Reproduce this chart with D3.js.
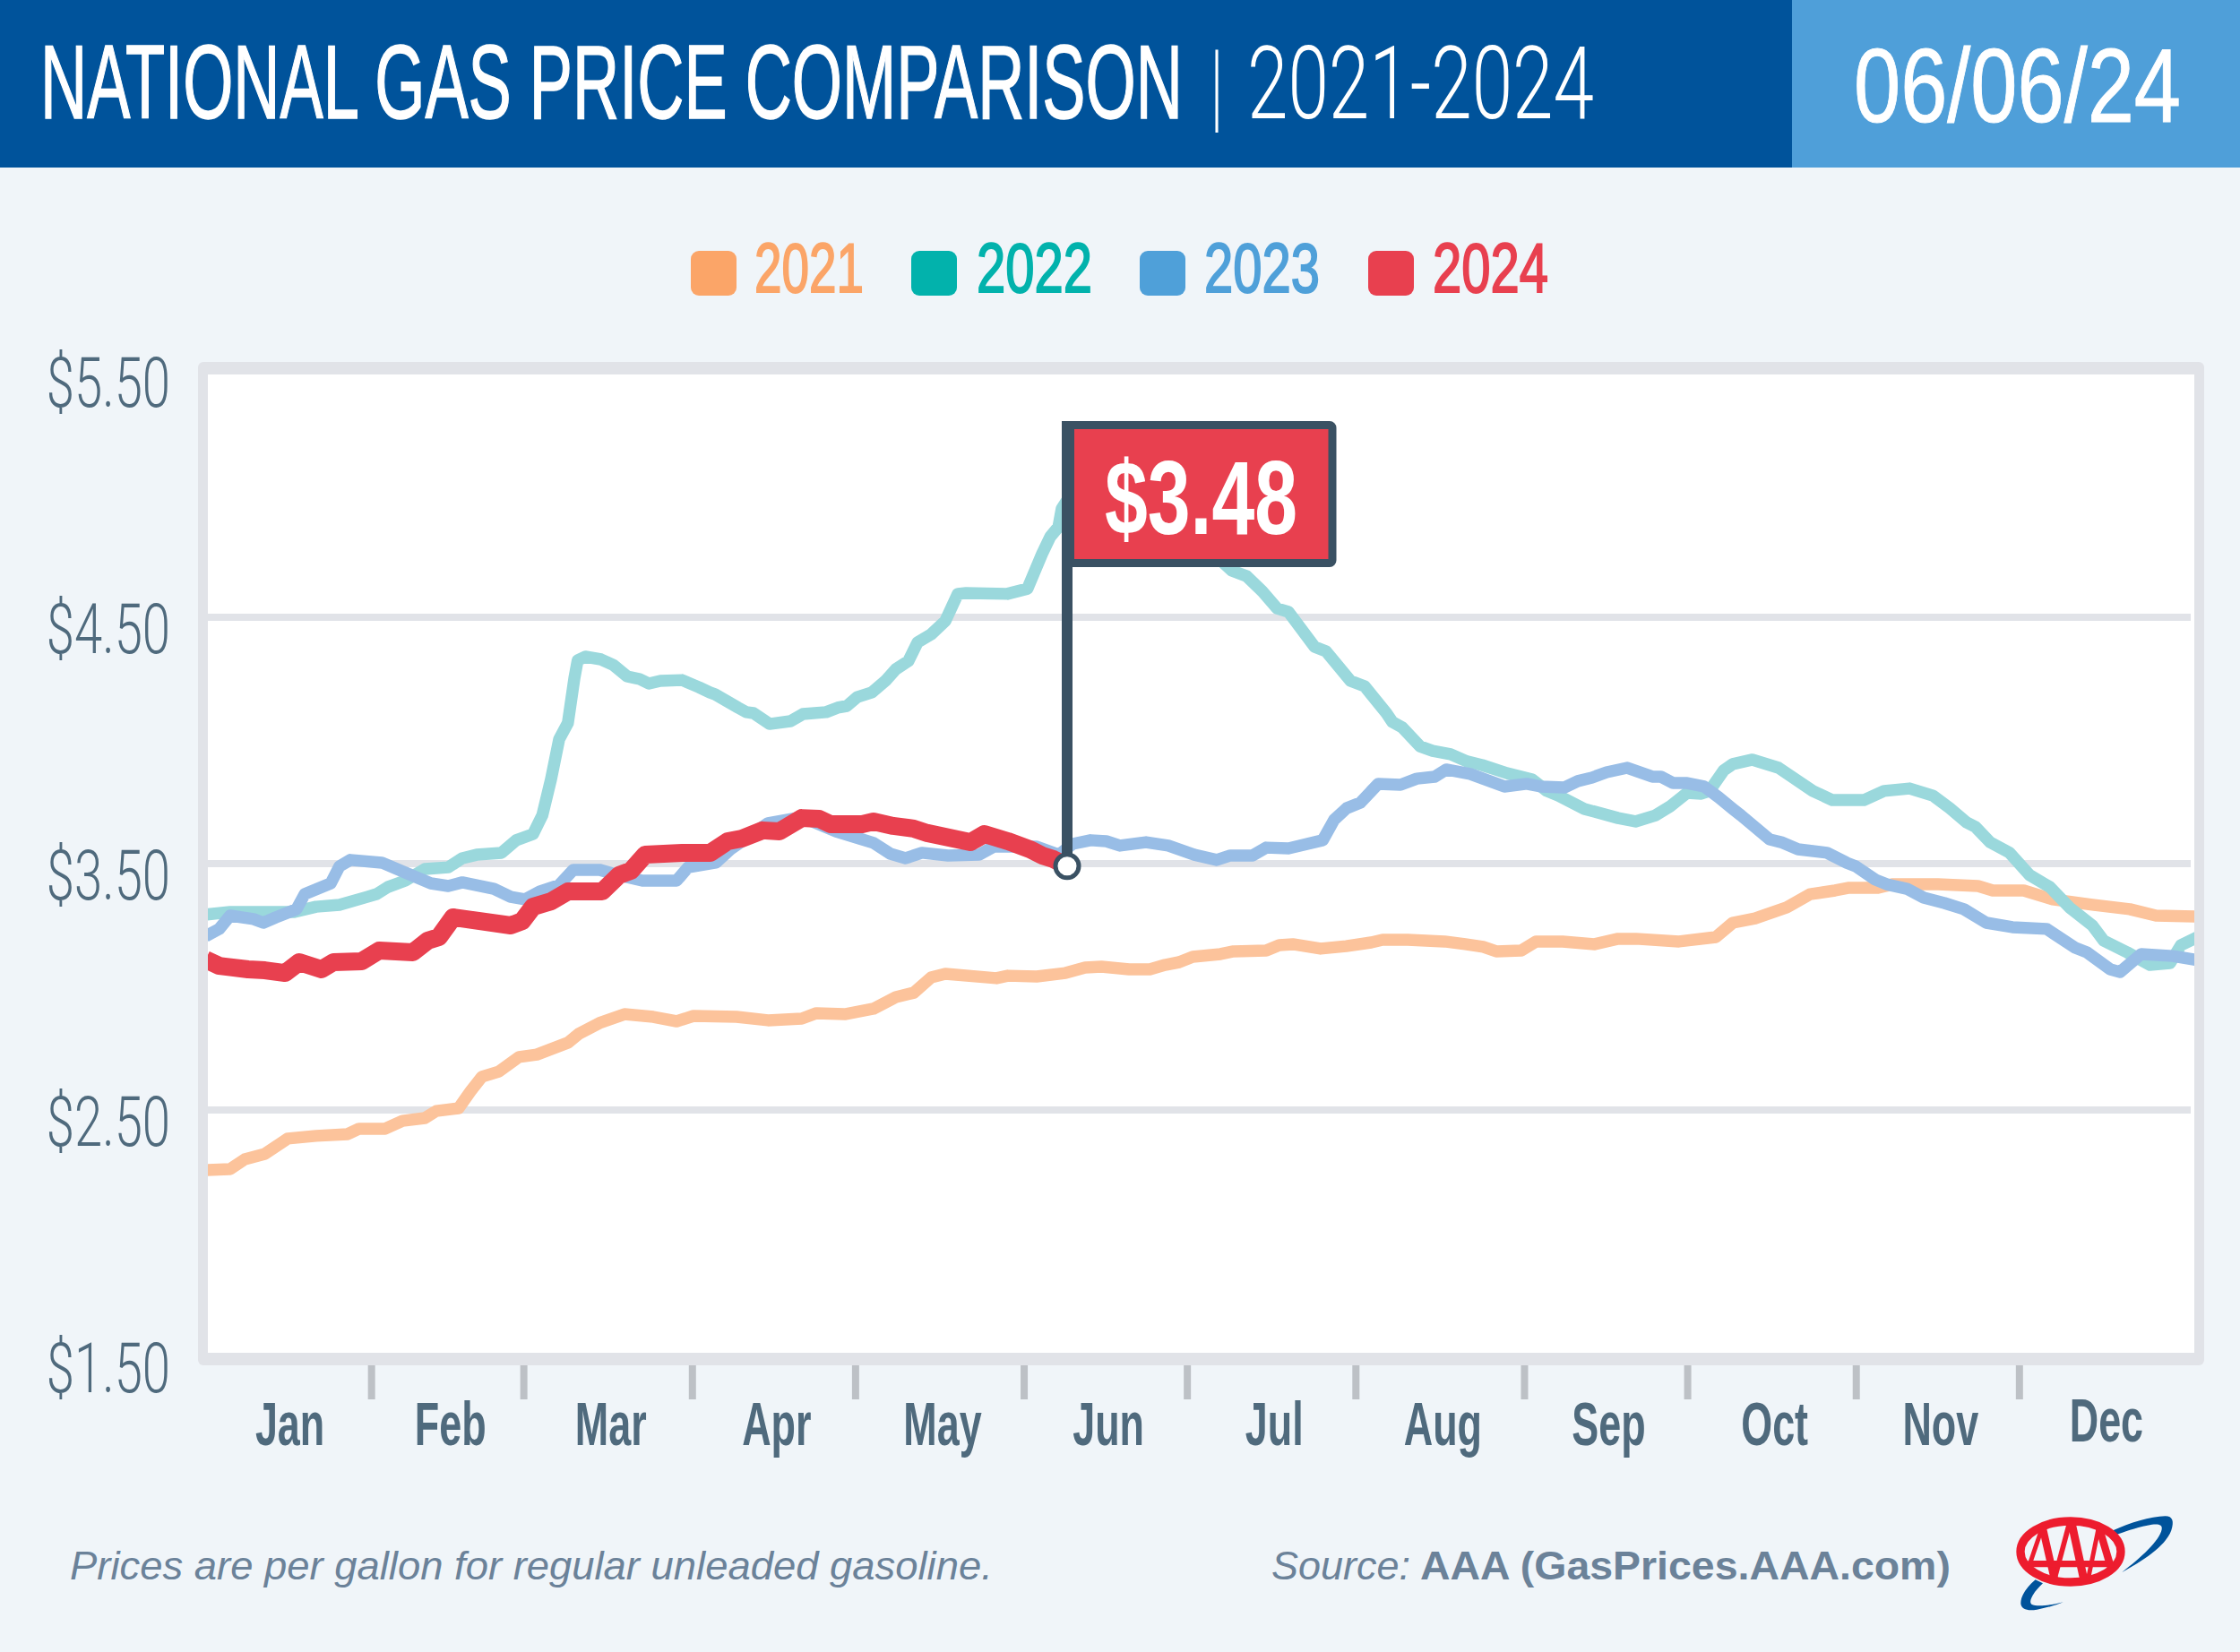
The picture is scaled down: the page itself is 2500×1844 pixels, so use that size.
<!DOCTYPE html>
<html>
<head>
<meta charset="utf-8">
<title>National Gas Price Comparison</title>
<script src="https://cdn.jsdelivr.net/npm/d3@7"></script>
<style>
  html, body { margin: 0; padding: 0; background: #f0f5f9; }
  svg { display: block; }
</style>
</head>
<body>
<div id="chart"></div>
<script>
// values: [day of year, price]
const years = ['2021', '2022', '2023', '2024'];
const months = ['Jan', 'Feb', 'Mar', 'Apr', 'May', 'Jun', 'Jul', 'Aug', 'Sep', 'Oct', 'Nov', 'Dec'];
const monthEnds = [31, 59, 90, 120, 151, 181, 212, 243, 273, 304, 334];
const monthMids = [15.5, 45, 74.5, 105, 135.5, 166, 196.5, 227.5, 258, 288.5, 319, 349.5];
const priceTicks = [1.5, 2.5, 3.5, 4.5, 5.5];
const gridPrices = [2.5, 3.5, 4.5];

const prices2021 = [[0.5,2.256],[5,2.26],[7.7,2.3],[11.4,2.322],[15.6,2.384],[20.8,2.395],[26.6,2.402],[28.7,2.424],[33.5,2.424],[36.7,2.456],[40.8,2.467],[42.9,2.496],[47,2.507],[49.2,2.576],[51.3,2.635],[54.4,2.656],[58.1,2.715],[61.4,2.725],[67.1,2.773],[69.1,2.809],[72.9,2.853],[77.5,2.889],[82.8,2.878],[87.1,2.86],[90.2,2.882],[98.1,2.878],[103.9,2.864],[110.1,2.871],[112.8,2.893],[118,2.889],[123.3,2.911],[127.4,2.958],[130.7,2.976],[133.9,3.038],[136.5,3.053],[145.9,3.035],[148,3.045],[153.3,3.042],[158.6,3.056],[162.2,3.078],[165.2,3.082],[170.3,3.071],[174.1,3.071],[176.9,3.089],[179.5,3.1],[182,3.122],[187.1,3.133],[189.5,3.144],[195.5,3.147],[197.9,3.169],[200.4,3.173],[205.5,3.155],[210.2,3.165],[214.8,3.18],[216.9,3.191],[221.5,3.191],[228.3,3.184],[232.1,3.173],[235.4,3.162],[237.8,3.144],[242.4,3.147],[245.1,3.184],[250,3.184],[255.9,3.173],[260.2,3.195],[263.5,3.195],[271.4,3.184],[278.2,3.202],[281.3,3.26],[285.4,3.278],[291.2,3.322],[295.5,3.376],[300.1,3.391],[302.7,3.402],[308,3.402],[310.6,3.416],[319,3.416],[326.4,3.409],[329.1,3.391],[334.8,3.391],[340.1,3.355],[347.4,3.333],[354.3,3.315],[359.1,3.289],[367,3.285]];

const prices2022 = [[0.5,3.293],[5,3.304],[11.4,3.304],[16.8,3.304],[20.8,3.325],[25.1,3.333],[30.2,3.365],[31.9,3.376],[34,3.405],[37.2,3.431],[40.8,3.478],[45.1,3.485],[47.7,3.522],[50.3,3.536],[54.9,3.544],[57.6,3.595],[60.7,3.62],[62.4,3.696],[64,3.842],[65.5,4.005],[67.1,4.071],[68.3,4.253],[68.9,4.325],[70.3,4.34],[73.2,4.329],[75.4,4.307],[78,4.26],[80.3,4.249],[82,4.231],[84.1,4.242],[88.1,4.245],[91.2,4.216],[93.2,4.195],[94.2,4.187],[98.4,4.133],[99.9,4.115],[101.2,4.111],[104.2,4.067],[108,4.078],[110.3,4.107],[114.6,4.115],[116.7,4.133],[118.4,4.14],[120.3,4.176],[123,4.195],[125.5,4.242],[127.4,4.289],[129.7,4.322],[131.4,4.398],[133.9,4.431],[136.5,4.485],[138.8,4.595],[140.3,4.598],[147.9,4.595],[151.6,4.616],[154.3,4.758],[155.8,4.827],[157.3,4.867],[157.9,4.94],[159.5,4.995],[162.8,5.013],[167,5.024],[171.1,4.998],[176.9,4.915],[183.5,4.805],[189.2,4.689],[191.9,4.667],[194.8,4.605],[197.5,4.536],[199.6,4.522],[204.4,4.38],[206.5,4.362],[211,4.242],[213.6,4.22],[217.6,4.111],[218.7,4.075],[220.5,4.053],[223.8,3.976],[226.1,3.958],[229.4,3.944],[232.4,3.915],[235.2,3.9],[239.8,3.867],[244.4,3.842],[247.1,3.795],[249.2,3.776],[254,3.722],[260.2,3.685],[263.4,3.671],[267.1,3.696],[269.8,3.733],[272.9,3.787],[275.5,3.784],[277,3.795],[279.6,3.878],[281.3,3.904],[284.9,3.922],[289.7,3.889],[296,3.795],[299.6,3.758],[305.4,3.758],[309.1,3.795],[313.8,3.805],[318.1,3.776],[321.2,3.725],[324.3,3.667],[325.9,3.649],[328.6,3.587],[332.2,3.544],[335.9,3.453],[339.6,3.405],[343.2,3.322],[347.4,3.249],[349.5,3.187],[353.8,3.14],[358,3.089],[361.7,3.096],[363.7,3.169],[367,3.205]];

const prices2023 = [[0.5,3.205],[3,3.235],[5,3.289],[9.3,3.275],[11.1,3.26],[13.4,3.282],[17.2,3.315],[18.7,3.376],[23.5,3.42],[25.1,3.489],[27.1,3.515],[32.9,3.504],[37.6,3.46],[41.9,3.42],[45.1,3.409],[47.7,3.424],[53.5,3.398],[56.6,3.365],[59.2,3.355],[61.9,3.387],[65.5,3.413],[68.1,3.475],[72.9,3.475],[76.5,3.453],[80.8,3.431],[87.1,3.431],[89.2,3.485],[94.3,3.504],[97,3.558],[103.9,3.664],[110.1,3.689],[116.4,3.631],[120.7,3.602],[123.3,3.584],[126.4,3.54],[129.2,3.522],[132.2,3.544],[137,3.533],[142.7,3.536],[145.4,3.569],[153.3,3.569],[157.4,3.536],[159.9,3.58],[163.2,3.595],[166.1,3.591],[168.6,3.573],[173.4,3.587],[177.5,3.573],[182.3,3.536],[186.4,3.515],[188.9,3.533],[193,3.533],[195.5,3.565],[199.6,3.562],[205.9,3.595],[208,3.678],[210.3,3.725],[212.8,3.747],[216.1,3.824],[220.2,3.82],[223.2,3.845],[226.5,3.853],[228.6,3.882],[233,3.864],[239.3,3.813],[243.4,3.824],[246,3.813],[250.3,3.809],[252.8,3.835],[255.4,3.849],[258.1,3.871],[261.9,3.889],[266.5,3.853],[268.1,3.853],[270.3,3.827],[272.9,3.827],[276,3.813],[278.7,3.769],[281.3,3.722],[282.8,3.696],[288.1,3.598],[290.2,3.587],[293.3,3.558],[298.6,3.544],[302.2,3.504],[303.9,3.489],[307.5,3.435],[309.6,3.416],[313.3,3.398],[316.4,3.362],[320.2,3.34],[323.8,3.315],[327.9,3.26],[332.7,3.242],[339,3.235],[344.3,3.158],[346.4,3.14],[350.7,3.071],[352.5,3.06],[356.4,3.133],[362.2,3.125],[367,3.107]];

const prices2024 = [[0.5,3.111],[3,3.085],[8.3,3.071],[11.4,3.067],[15.1,3.056],[17.7,3.1],[21.8,3.071],[24,3.1],[29.2,3.104],[32.4,3.147],[38.6,3.14],[41.3,3.187],[43.4,3.202],[46,3.282],[56.6,3.249],[58.7,3.267],[60.7,3.325],[64,3.347],[67.1,3.387],[73.4,3.387],[76.5,3.453],[78.7,3.471],[81.3,3.536],[88.1,3.544],[93.3,3.544],[96.5,3.591],[99.1,3.602],[102.9,3.635],[106,3.631],[110.1,3.685],[113.3,3.682],[115.4,3.66],[121.2,3.66],[123.3,3.671],[126.9,3.653],[130.7,3.642],[133.2,3.624],[141.1,3.587],[143.7,3.62],[148,3.591],[152.1,3.558],[154.3,3.533],[156.4,3.518],[158.9,3.49]];

const seriesList = [prices2021, prices2022, prices2023, prices2024];
const lineColors = ['#fcc39b', '#9ad8dc', '#98bde6', '#e8404f'];
const legendColors = ['#fba568', '#02b2ac', '#4fa0d9', '#e8404f'];
const lineWidths = [13.5, 13.5, 13.5, 20];

const narrow = "'Liberation Sans Narrow','Liberation Sans',sans-serif";
const thin = "Roboto,'Liberation Sans',sans-serif";
const sans = "'Liberation Sans',sans-serif";
const slate = '#4f6a7d';
const frameGrey = '#e1e3e8';

const width = 2500, height = 1844;
const plot = { left: 232, right: 2449, top: 418, bottom: 1510 };

const svg = d3.select('#chart').append('svg')
    .attr('width', width)
    .attr('height', height);

// squeeze glyphs horizontally, there is no condensed face like the original
function squeeze(sel, k) {
    sel.attr('transform', `scale(${k},1)`);
}

function fitText(x, y, txt, w, size, family, weight, fill, bolden) {
    const t = svg.append('text')
        .attr('font-family', family)
        .attr('font-size', size)
        .attr('font-weight', weight)
        .attr('fill', fill)
        .text(txt);
    if (bolden) t.attr('stroke', fill).attr('stroke-width', bolden);
    const len = t.node().getComputedTextLength();
    t.attr('transform', `translate(${x},${y}) scale(${w / len},1)`);
    return t;
}

// Header
svg.append('rect').attr('width', 2000).attr('height', 187).attr('fill', '#00539b');
svg.append('rect').attr('x', 2000).attr('width', 500).attr('height', 187).attr('fill', '#4f9fd9');
fitText(45, 132, 'NATIONAL GAS PRICE COMPARISON', 1275, 117, narrow, 400, '#fff', 1.5);
fitText(1353, 134, '|', 10, 110, thin, 400, '#fff');
fitText(1392, 132, '2021-2024', 387, 114, thin, 300, '#fff');
fitText(2069, 136, '06/06/24', 365, 117, narrow, 400, '#fff', 1);

// Legend
const legendSquareX = [771, 1017, 1272, 1527];
const legendTextX = [842, 1090, 1344, 1599];
const legendTextW = [122, 129, 129, 129];
years.forEach((yr, i) => {
    svg.append('rect')
        .attr('x', legendSquareX[i]).attr('y', 280)
        .attr('width', 51).attr('height', 50).attr('rx', 9)
        .attr('fill', legendColors[i]);
    fitText(legendTextX[i], 326, yr, legendTextW[i], 77, narrow, 400, legendColors[i], 2);
});

// Scales
const xScale = d3.scaleLinear().domain([0, 365]).range([226.5, 2442]);
const yScale = d3.scaleLinear().domain([1.5, 5.5]).range([1514, 414]);

// Plot frame
svg.append('rect')
    .attr('x', 221).attr('y', 404)
    .attr('width', 2460 - 221).attr('height', 1524 - 404)
    .attr('rx', 6)
    .attr('fill', frameGrey);
svg.append('rect')
    .attr('x', plot.left).attr('y', plot.top)
    .attr('width', plot.right - plot.left).attr('height', plot.bottom - plot.top)
    .attr('fill', '#fff');

// Gridlines
svg.append('g').selectAll('line')
    .data(gridPrices)
    .join('line')
    .attr('x1', plot.left).attr('x2', 2445)
    .attr('y1', d => yScale(d)).attr('y2', d => yScale(d))
    .attr('stroke', frameGrey)
    .attr('stroke-width', 8);

// Month separators
svg.append('g').selectAll('line')
    .data(monthEnds)
    .join('line')
    .attr('x1', d => xScale(d)).attr('x2', d => xScale(d))
    .attr('y1', 1524).attr('y2', 1562)
    .attr('stroke', '#bdc1c6')
    .attr('stroke-width', 8);

// Axes
const yAxis = svg.append('g')
    .attr('transform', 'translate(190,0)')
    .call(d3.axisLeft(yScale).tickValues(priceTicks).tickFormat(d3.format('$.2f')).tickSize(0).tickPadding(0));
yAxis.select('.domain').remove();
yAxis.selectAll('text')
    .attr('dy', 39)
    .attr('font-family', thin)
    .attr('font-weight', 300)
    .attr('font-size', 77)
    .attr('fill', slate)
    .call(squeeze, 0.73);

const xAxis = svg.append('g')
    .attr('transform', 'translate(0,1613)')
    .call(d3.axisBottom(xScale).tickValues(monthMids).tickFormat((d, i) => months[i]).tickSize(0).tickPadding(0));
xAxis.select('.domain').remove();
xAxis.selectAll('text')
    .attr('y', 0)
    .attr('dy', (d, i) => i === 11 ? -4 : 0)
    .attr('font-family', narrow)
    .attr('font-weight', 700)
    .attr('font-size', 68)
    .attr('fill', slate);
// scale each label about its own month centre
xAxis.selectAll('.tick').attr('transform', d => `translate(${xScale(d) + 3},0) scale(0.66,1)`);

// Lines
svg.append('clipPath').attr('id', 'plot-clip')
    .append('rect')
    .attr('x', plot.left).attr('y', plot.top)
    .attr('width', plot.right - plot.left).attr('height', plot.bottom - plot.top);

const line = d3.line()
    .x(d => xScale(d[0]))
    .y(d => yScale(d[1]));

svg.append('g')
    .attr('clip-path', 'url(#plot-clip)')
    .selectAll('path')
    .data(seriesList)
    .join('path')
    .attr('d', line)
    .attr('fill', 'none')
    .attr('stroke', (d, i) => lineColors[i])
    .attr('stroke-width', (d, i) => lineWidths[i])
    .attr('stroke-linejoin', 'round');

// Flag on the latest price
const latest = prices2024[prices2024.length - 1];
const flagX = xScale(latest[0]);
const flagInk = '#3a5163';
svg.append('line')
    .attr('x1', flagX).attr('x2', flagX)
    .attr('y1', 470).attr('y2', yScale(latest[1]))
    .attr('stroke', flagInk)
    .attr('stroke-width', 12);
svg.append('rect')
    .attr('x', flagX + 3).attr('y', 474.5)
    .attr('width', 293).attr('height', 154)
    .attr('rx', 3)
    .attr('fill', '#e8404f')
    .attr('stroke', flagInk)
    .attr('stroke-width', 9);
svg.append('rect')
    .attr('x', flagX - 6).attr('y', 470)
    .attr('width', 14).attr('height', 163)
    .attr('fill', flagInk);
fitText(1233, 596, '$3.48', 215, 117, narrow, 700, '#fff');
svg.append('circle')
    .attr('cx', flagX)
    .attr('cy', yScale(latest[1]))
    .attr('r', 13)
    .attr('fill', '#fff')
    .attr('stroke', flagInk)
    .attr('stroke-width', 5);

// Footer
const noteGrey = '#6b8299';
fitText(78, 1763, 'Prices are per gallon for regular unleaded gasoline.', 1030, 44, sans, 400, noteGrey)
    .attr('font-style', 'italic');
fitText(1419, 1763, 'Source:', 155, 44, sans, 400, noteGrey)
    .attr('font-style', 'italic');
fitText(1585, 1763, 'AAA (GasPrices.AAA.com)', 592, 44, sans, 700, noteGrey);

// AAA logo
const logo = svg.append('g').attr('transform', 'translate(2230,1680) scale(0.3333)');
const logoRed = '#ed1c2e';
logo.append('path')
    .attr('fill', '#00539b')
    .attr('d', 'M385,85 C440,60 510,38 560,37 C585,37 590,55 580,85 C560,140 480,190 415,225 C480,175 540,120 548,82 C552,62 530,62 500,68 C460,76 420,90 395,100 Z');
logo.append('path')
    .attr('fill', '#00539b')
    .attr('d', 'M125,250 C95,275 75,305 76,330 C78,350 100,355 130,350 C160,345 195,335 218,325 C180,335 130,342 112,332 C100,322 120,290 150,262 Z');
logo.append('ellipse')
    .attr('cx', 243).attr('cy', 156).attr('rx', 168).attr('ry', 102)
    .attr('fill', '#f0f5f9')
    .attr('stroke', logoRed)
    .attr('stroke-width', 28);
logo.append('clipPath').attr('id', 'logo-clip')
    .append('ellipse')
    .attr('cx', 243).attr('cy', 156).attr('rx', 170).attr('ry', 105);
const logoLetters = logo.append('g').attr('clip-path', 'url(#logo-clip)').attr('stroke', logoRed);
[[243, 45, 185, 262, 17], [243, 45, 290, 262, 27], [148, 75, 108, 192, 15], [148, 70, 190, 255, 25], [338, 70, 300, 255, 15], [338, 75, 378, 210, 25]]
    .forEach(s => logoLetters.append('line')
        .attr('x1', s[0]).attr('y1', s[1]).attr('x2', s[2]).attr('y2', s[3])
        .attr('stroke-width', s[4]));
logoLetters.append('line')
    .attr('x1', 100).attr('x2', 385).attr('y1', 197).attr('y2', 197)
    .attr('stroke-width', 22);
</script>
</body>
</html>
